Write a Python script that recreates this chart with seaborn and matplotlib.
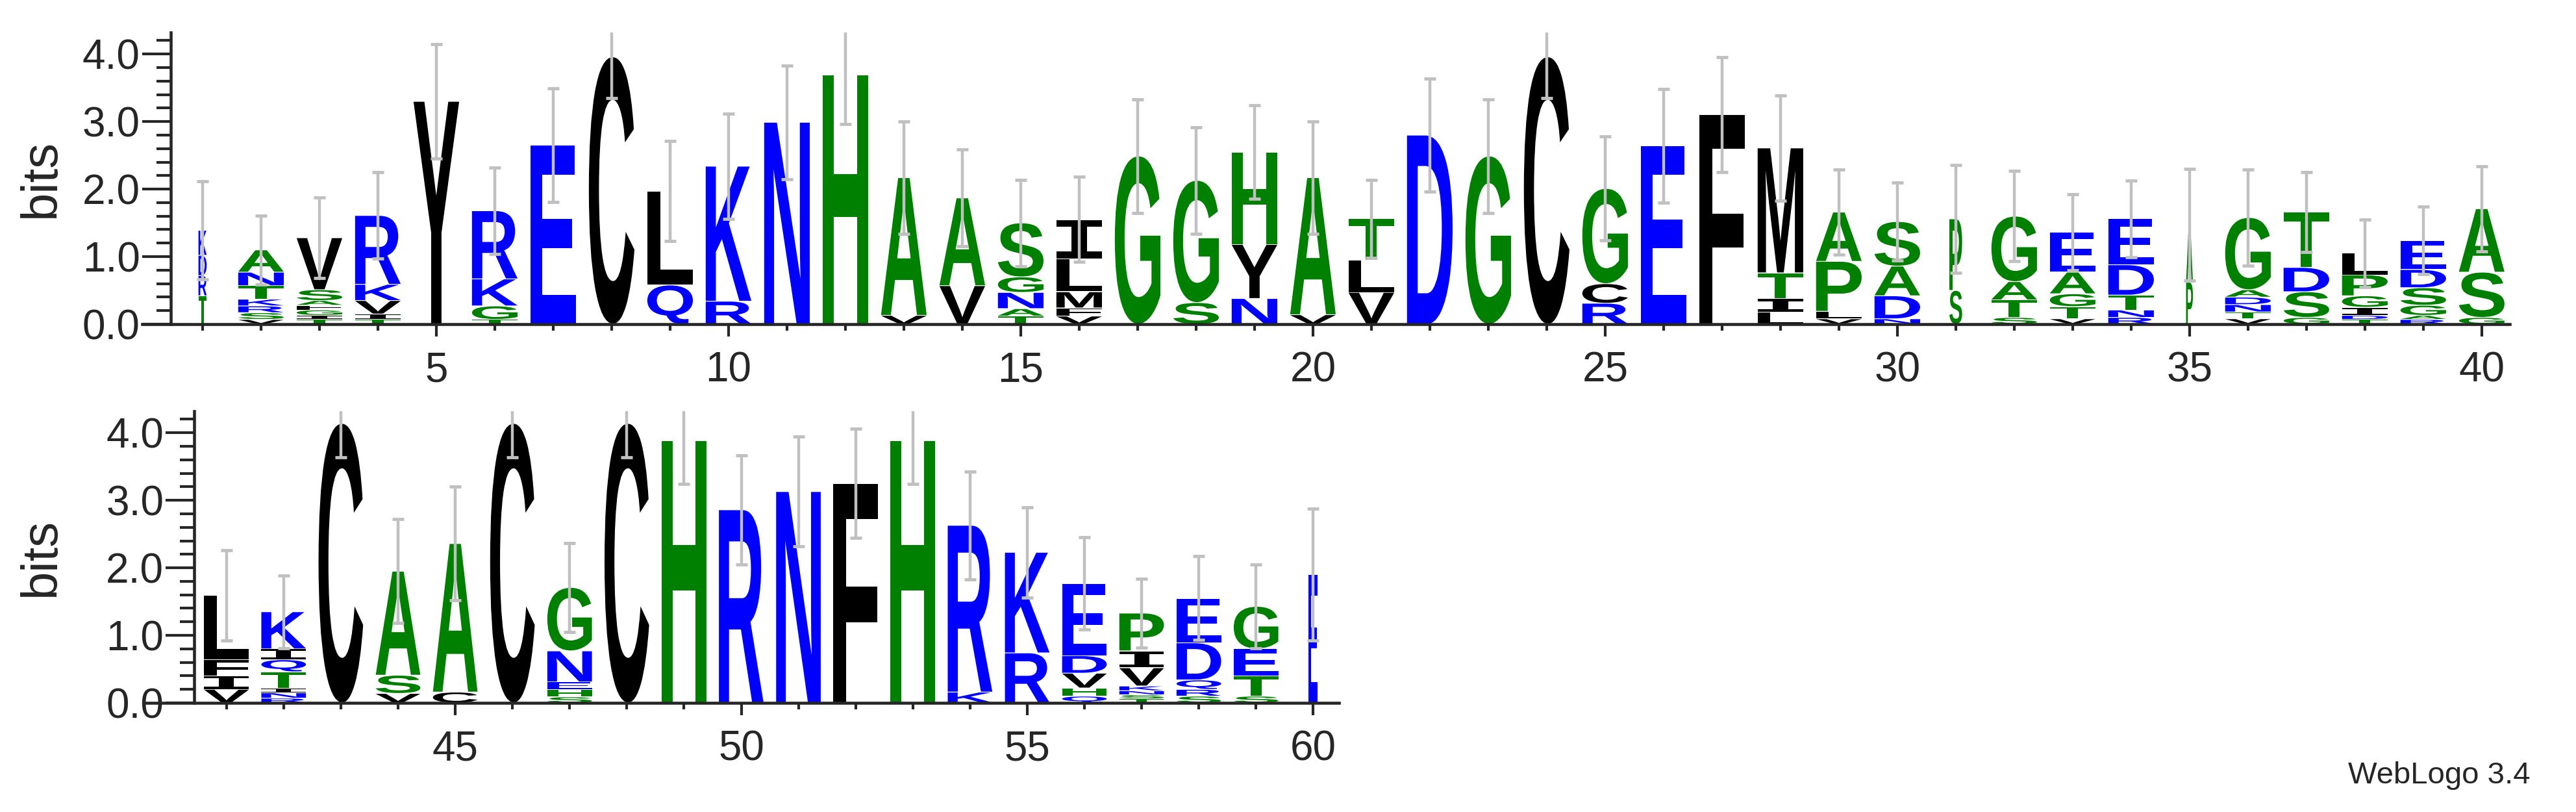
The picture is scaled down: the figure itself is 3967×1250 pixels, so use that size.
import matplotlib
matplotlib.use("Agg")
import matplotlib.pyplot as plt
import seaborn as sns
from matplotlib.textpath import TextPath
from matplotlib.font_manager import FontProperties
from matplotlib.patches import PathPatch
from matplotlib.path import Path
import numpy as np

sns.set_style("ticks")
plt.rcParams['font.family'] = ['Liberation Sans Narrow', 'Liberation Sans', 'DejaVu Sans']

# ---------------- data (bottom -> top in each stack) ----------------
positions_top = list(range(1, 41))
letters_top = ["TRDK", "VSRKTNA", "TIGFASV", "TIVKR", "Y", "TGKR", "E", "C", "QL", "RK",
               "N", "H", "VA", "VA", "TANGS", "VFMLI", "G", "SG", "NYH", "VA",
               "VLT", "D", "G", "C", "RCG", "E", "F", "LITM", "VLPA", "NDAS",
               "SP", "STAG", "VTGAE", "RNTDE", "PA", "VTNDAG", "GSDT", "TDIGPL", "RAGSDE", "GSA"]
heights_top = [[0.42, 0.3, 0.3, 0.37], [0.07, 0.1, 0.1, 0.1, 0.2, 0.2, 0.33], [0.07, 0.06, 0.08, 0.07, 0.07, 0.16, 0.77],
               [0.07, 0.08, 0.2, 0.24, 1.02], [3.30], [0.07, 0.2, 0.4, 1.01], [2.65], [3.96], [0.58, 1.39], [0.34, 2.0],
               [2.99], [3.69], [0.13, 2.04], [0.57, 1.30], [0.12, 0.11, 0.24, 0.23, 0.80], [0.12, 0.12, 0.24, 0.49, 0.58],
               [2.49], [0.32, 1.81], [0.38, 0.80, 1.37], [0.14, 2.03], [0.47, 0.48, 0.61], [2.80], [2.49], [3.96],
               [0.31, 0.29, 1.41], [2.64], [3.10], [0.18, 0.20, 0.38, 1.85], [0.08, 0.11, 0.74, 0.73], [0.08, 0.34, 0.44, 0.66],
               [0.50, 1.06], [0.10, 0.26, 0.27, 0.97], [0.08, 0.18, 0.19, 0.32, 0.59], [0.10, 0.11, 0.22, 0.45, 0.68],
               [0.62, 0.85], [0.08, 0.10, 0.11, 0.11, 0.11, 1.07], [0.10, 0.38, 0.36, 0.82], [0.07, 0.06, 0.12, 0.17, 0.31, 0.32],
               [0.07, 0.06, 0.15, 0.26, 0.27, 0.43], [0.10, 0.67, 0.94]]
errors_top = [0.73, 0.51, 0.60, 0.64, 0.85, 0.64, 0.84, 0.61, 0.74, 0.78,
              0.84, 0.73, 0.83, 0.72, 0.64, 0.63, 0.84, 0.79, 0.69, 0.83,
              0.58, 0.84, 0.84, 0.61, 0.77, 0.84, 0.85, 0.78, 0.63, 0.58,
              0.80, 0.67, 0.56, 0.57, 0.83, 0.71, 0.59, 0.50, 0.50, 0.63]
widths_top = [0.18, 1, 1, 1, 1, 1, 1, 1, 1, 1, 1, 1, 1, 1, 1, 1, 1, 1, 1, 1,
              1, 1, 1, 1, 1, 1, 1, 1, 1, 1, 0.28, 1, 1, 1, 0.15, 1, 1, 1, 1, 1]

positions_bot = list(range(41, 61))
letters_bot = ["VIFL", "RNITQIK", "C", "VSA", "CA", "C", "SHENG", "C", "H", "R",
               "N", "F", "H", "KR", "RK", "QHVDE", "TSNKVIP", "SRQDE", "STEG", "E"]
heights_bot = [[0.20, 0.20, 0.24, 0.95], [0.07, 0.08, 0.07, 0.24, 0.18, 0.16, 0.55], [4.14], [0.14, 0.27, 1.54],
               [0.16, 2.20], [4.14], [0.09, 0.11, 0.11, 0.46, 0.94], [4.14], [3.88], [2.86],
               [3.13], [3.25], [3.88], [0.16, 2.47], [0.74, 1.49], [0.10, 0.12, 0.22, 0.26, 1.07],
               [0.06, 0.06, 0.06, 0.07, 0.27, 0.25, 0.56], [0.10, 0.10, 0.14, 0.55, 0.66], [0.10, 0.30, 0.40, 0.63], [1.90]]
errors_bot = [0.67, 0.54, 0.50, 0.77, 0.84, 0.50, 0.66, 0.50, 0.64, 0.81,
              0.81, 0.81, 0.64, 0.80, 0.67, 0.68, 0.51, 0.62, 0.62, 0.98]
widths_bot = [1] * 19 + [0.2]

black_set = "CVLIMFYW"
green_set = "AGSTHP"
blue_set = "NQKRDE"
palette = {"black": "#000000", "green": "#008000", "blue": "#0000ff"}


def color_of(ch):
    if ch in black_set:
        return palette["black"]
    if ch in green_set:
        return palette["green"]
    return palette["blue"]


fp = FontProperties(family="Liberation Sans", weight="bold")
fp_i = FontProperties(family="DejaVu Sans Mono", weight="bold")
_cache = {}


def draw_letter(ax, ch, x, y0, w, h):
    if ch not in _cache:
        _cache[ch] = TextPath((0, 0), ch, size=1, prop=fp_i if ch == "I" else fp)
    tp = _cache[ch]
    bb = tp.get_extents()
    v = tp.vertices.copy()
    v[:, 0] = (v[:, 0] - bb.x0) / bb.width * w + x - w / 2
    v[:, 1] = (v[:, 1] - bb.y0) / bb.height * h + y0
    ax.add_patch(PathPatch(Path(v, tp.codes), facecolor=color_of(ch), edgecolor="none", zorder=2))


def draw_panel(ax, pos, letters, heights, errs, widths, xlo, xhi, spine_x):
    tops = []
    for p, ls, hs, wf in zip(pos, letters, heights, widths):
        y = 0.0
        for ch, h in zip(ls, hs):
            draw_letter(ax, ch, p, y + 0.006, 0.78 * wf, max(h - 0.012, 0.01))
            y += h
        tops.append(y)
    ax.errorbar(pos, tops, yerr=errs, fmt="none", ecolor="#c0c0c0", elinewidth=3.2,
                capsize=6.5, capthick=3.5, zorder=3)
    ax.set_xlim(xlo, xhi)
    ax.set_ylim(0, 4.32)
    sns.despine(ax=ax)
    ax.spines["left"].set_position(("data", spine_x))
    ax.spines["left"].set_linewidth(3.3)
    ax.spines["bottom"].set_linewidth(3.3)
    ax.set_xticks([p for p in pos if p % 5 == 0])
    ax.set_xticks(pos, minor=True)
    ax.set_yticks(np.arange(0, 4.01, 1.0))
    ax.set_yticks(np.arange(0, 4.31, 0.2), minor=True)
    ax.set_yticklabels(["0.0", "1.0", "2.0", "3.0", "4.0"])
    ax.tick_params(axis="x", which="major", length=13.7, width=3, labelsize=46, pad=16)
    ax.tick_params(axis="x", which="minor", length=7, width=3)
    ax.tick_params(axis="y", which="major", length=32, width=3, labelsize=46, pad=2)
    ax.tick_params(axis="y", which="minor", length=16, width=3)
    ax.set_ylabel("bits", fontsize=56, family=["Liberation Sans", "DejaVu Sans"])


fig = plt.figure(figsize=(39.67, 12.5), dpi=100)
ax1 = fig.add_axes([219 / 3967, 0.6008, (3865 - 219) / 3967, 0.3592])
ax2 = fig.add_axes([221 / 3967, 0.1344, (2062 - 221) / 3967, 0.3592])

draw_panel(ax1, positions_top, letters_top, heights_top, errors_top, widths_top, -0.033, 40.48, 0.456)
draw_panel(ax2, positions_bot, letters_bot, heights_bot, errors_bot, widths_bot, 39.55, 60.45, 40.44)
ax1.yaxis.set_label_coords((100 - 219) / 3646, 0.5)
ax2.yaxis.set_label_coords((100 - 221) / 1841, 0.5)

fig.text(3896 / 3967, 0.035, "WebLogo 3.4", ha="right", va="baseline", fontsize=34,
         family=["Liberation Sans", "DejaVu Sans"])

fig.savefig("out.png", dpi=100)
